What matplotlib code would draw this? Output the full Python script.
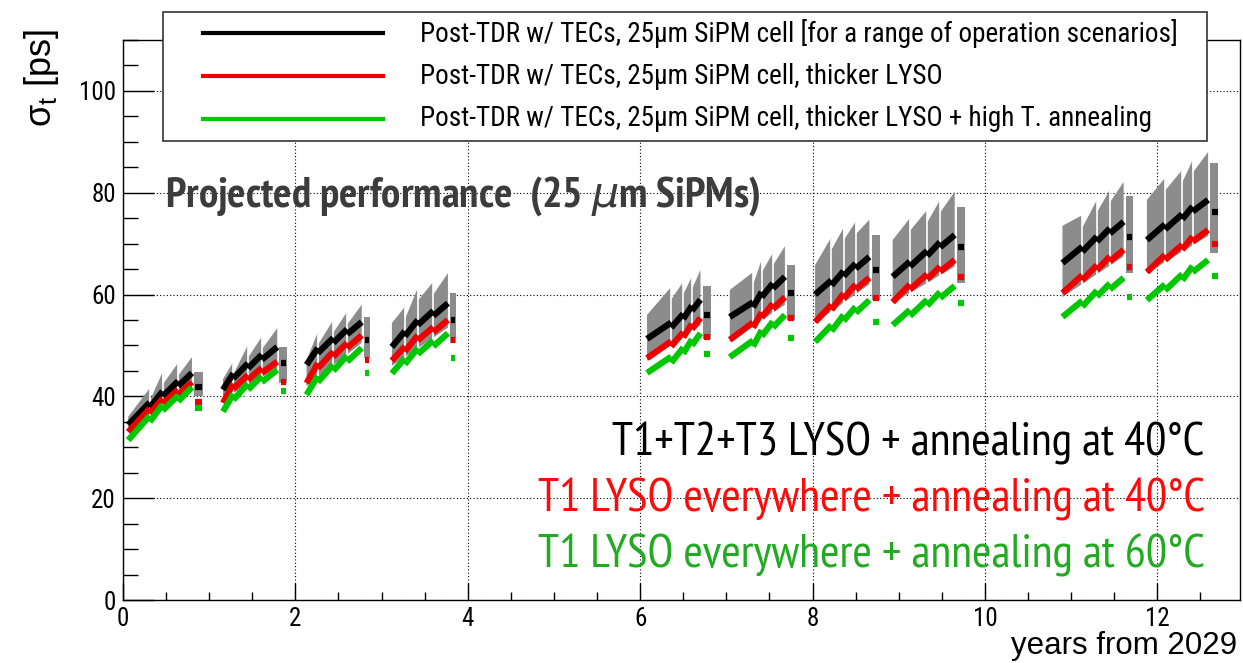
import numpy as np
import matplotlib.pyplot as plt
from matplotlib.lines import Line2D
from matplotlib.patches import Rectangle

# one block = one year of running; 4 fills (ramps) then a year-end point
block_start = [0.06, 1.16, 2.13, 3.12, 6.08, 7.04, 8.03, 8.93, 10.90, 11.88]
block_peaks = [[0.31, 0.46, 0.64, 0.80], [1.28, 1.45, 1.61, 1.79],
               [2.26, 2.44, 2.60, 2.77], [3.27, 3.42, 3.60, 3.77],
               [6.36, 6.50, 6.60, 6.70], [7.31, 7.41, 7.54, 7.68],
               [8.22, 8.36, 8.50, 8.66], [9.13, 9.33, 9.48, 9.65],
               [11.13, 11.30, 11.45, 11.61], [12.09, 12.29, 12.41, 12.59]]
block_end = [0.93, 1.90, 2.87, 3.86, 6.82, 7.80, 8.78, 9.77, 11.72, 12.71]

# curve values: start of year, then top of each fill
black_vals = [[34.4, 38.8, 41.0, 43.0, 44.6], [41.3, 44.5, 46.5, 48.2, 49.7],
              [46.2, 49.5, 51.5, 53.2, 54.6], [49.7, 52.8, 55.0, 56.8, 58.3],
              [51.3, 54.5, 56.2, 57.8, 59.0], [55.6, 58.5, 60.5, 62.2, 63.5],
              [60.0, 62.8, 64.6, 66.1, 67.4], [63.5, 66.5, 68.6, 70.3, 71.7],
              [66.2, 69.4, 71.4, 73.0, 74.3], [70.7, 73.8, 75.8, 77.3, 78.6]]
red_vals = [[33.0, 37.6, 39.6, 41.3, 42.8], [38.7, 42.5, 44.2, 45.6, 46.8],
            [42.6, 46.5, 48.8, 50.5, 52.0], [47.0, 49.8, 52.0, 53.6, 55.0],
            [47.5, 50.8, 52.6, 54.2, 55.4], [51.1, 54.5, 56.5, 58.2, 59.5],
            [54.6, 58.0, 60.2, 62.0, 63.3], [58.5, 62.0, 64.0, 65.5, 66.8],
            [60.3, 63.8, 65.8, 67.5, 68.8], [64.4, 67.8, 69.8, 71.4, 72.7]]
green_vals = [[31.4, 36.2, 38.4, 40.2, 41.8], [37.0, 40.5, 42.5, 44.0, 45.2],
              [40.3, 44.0, 46.2, 48.0, 49.5], [44.5, 47.5, 49.5, 51.0, 52.4],
              [44.6, 47.8, 49.6, 51.2, 52.4], [47.7, 51.0, 53.0, 54.7, 56.0],
              [50.7, 54.0, 56.0, 57.6, 58.9], [54.0, 57.0, 59.0, 60.5, 61.7],
              [55.6, 58.8, 60.8, 62.2, 63.3], [58.9, 62.0, 64.0, 65.6, 66.8]]

# year-end values (after annealing)
black_end = [41.8, 46.5, 51.0, 55.0, 56.0, 60.3, 64.8, 69.4, 71.3, 76.2]
red_end = [38.9, 42.8, 47.1, 51.1, 51.7, 55.4, 59.3, 63.5, 65.4, 69.9]
green_end = [37.7, 41.1, 44.6, 47.5, 48.3, 51.5, 54.6, 58.3, 59.5, 63.7]

# recovery between fills
black_drop, red_drop, green_drop = 1.0, 1.0, 1.2

# grey band (range of operation scenarios)
band_hi = [[36.0, 41.6, 44.8, 46.6, 47.7], [43.4, 46.8, 50.1, 51.7, 53.4],
           [47.1, 52.6, 55.0, 56.6, 58.0], [54.4, 57.6, 61.3, 62.5, 64.2],
           [56.0, 61.5, 62.5, 63.5, 64.8], [60.9, 64.4, 66.8, 68.2, 69.5],
           [65.8, 71.3, 73.1, 74.3, 74.7], [70.7, 75.0, 76.6, 78.6, 80.2],
           [73.5, 75.6, 78.6, 80.6, 82.1], [78.6, 82.9, 84.5, 86.4, 88.0]]
band_lo = [[33.0, 41.0], [39.5, 45.5], [42.0, 50.5], [46.0, 53.5], [47.0, 54.0],
           [50.7, 58.0], [54.4, 62.0], [58.3, 65.5], [59.5, 67.5], [64.2, 71.5]]
band_end = [[44.8, 40.0], [49.7, 42.6], [55.6, 47.5], [60.3, 50.5], [61.7, 51.3],
            [65.8, 55.0], [71.7, 58.9], [77.2, 62.3], [79.4, 64.2], [85.9, 68.2]]
band_drop = 2.5

legend_labels = [
    'Post-TDR w/ TECs, 25\u00b5m SiPM cell [for a range of operation scenarios]',
    'Post-TDR w/ TECs, 25\u00b5m SiPM cell, thicker LYSO',
    'Post-TDR w/ TECs, 25\u00b5m SiPM cell, thicker LYSO + high T. annealing',
]
scenario_labels = ['T1+T2+T3 LYSO + annealing at 40\u00b0C',
                   'T1 LYSO everywhere + annealing at 40\u00b0C',
                   'T1 LYSO everywhere + annealing at 60\u00b0C']

BLACK, RED, GREEN = '#000000', '#ee0000', '#00c800'
GREY = '#8c8c8c'
narrow = ['Roboto Condensed', 'Archivo Narrow', 'PT Sans Narrow', 'Liberation Sans']
big_narrow = ['PT Sans Narrow', 'Roboto Condensed', 'Archivo Narrow', 'Liberation Sans']
plt.rcParams['font.family'] = narrow

W, H = 1243, 663
fig = plt.figure(figsize=(W / 100, H / 100), dpi=100)
ax = fig.add_axes([123 / W, 1 - 600 / H, (1240 - 123) / W, (600 - 40) / H])
ax.set_xlim(0, 12.96)
ax.set_ylim(0, 110)

for b in range(len(block_start)):
    t0, peaks, tend = block_start[b], block_peaks[b], block_end[b]
    hi = band_hi[b]
    # band as sawtooth polygon
    xs, ys = [t0, t0], [band_lo[b][0], hi[0]]
    for k in range(4):
        xs.append(peaks[k]); ys.append(hi[k + 1])
        if k < 3:
            xs.append(peaks[k]); ys.append(hi[k + 1] - band_drop)
    xs.append(peaks[-1]); ys.append(band_lo[b][1])
    ax.fill(xs, ys, color=GREY, lw=0, zorder=2)
    ax.vlines(peaks[:3], band_lo[b][0], hi[1:4], color='white', lw=1.2, zorder=2.5)
    ax.fill_between([peaks[-1] + 0.025, tend], band_end[b][1], band_end[b][0],
                    color=GREY, lw=0, zorder=2)

    for vals, endv, drop, col in [(black_vals, black_end, black_drop, BLACK),
                                  (red_vals, red_end, red_drop, RED),
                                  (green_vals, green_end, green_drop, GREEN)]:
        v = vals[b]
        for k in range(4):
            xa = t0 if k == 0 else peaks[k - 1]
            ya = v[0] if k == 0 else v[k] - drop
            ax.plot([xa, peaks[k]], [ya, v[k + 1]], color=col, lw=4.5,
                    solid_capstyle='butt', zorder=4)
        ax.plot([peaks[-1] + 0.04, tend - 0.01], [endv[b], endv[b]], color=col,
                lw=4.5, solid_capstyle='butt', zorder=4)

# axes styling, ROOT-like
ax.set_xticks(np.arange(0, 13, 2))
ax.set_xticks(np.arange(0, 13, 0.5), minor=True)
ax.set_yticks(np.arange(0, 101, 20))
ax.set_yticks(np.arange(0, 111, 5), minor=True)
ax.grid(True, which='major', color='black', ls=(0, (1, 2)), lw=0.8, zorder=1)
ax.tick_params(axis='x', which='major', direction='in', length=12, width=1,
               labelsize=18, pad=5)
ax.tick_params(axis='x', which='minor', direction='in', length=6, width=1)
ax.tick_params(axis='y', which='major', direction='in', length=22, width=1,
               labelsize=18, pad=5)
ax.tick_params(axis='y', which='minor', direction='in', length=11, width=1)
for s in ax.spines.values():
    s.set_linewidth(1)
ax.set_axisbelow(True)

fig.text(42 / W, 1 - 78 / H, '\u03c3$_\\mathregular{t}$ [ps]', rotation=90,
         ha='center', va='center', fontsize=26,
         family=['Liberation Sans', 'DejaVu Sans'])
fig.text(1237 / W, 1 - 646 / H, 'years from 2029', ha='right', va='center',
         fontsize=22.5, family=['Liberation Sans', 'DejaVu Sans'])

# legend box drawn by hand
fig.add_artist(Rectangle((163 / W, 1 - 141 / H), (1207 - 163) / W, (141 - 12) / H,
                         transform=fig.transFigure, facecolor='white',
                         edgecolor='#333333', lw=1.2, zorder=10))
for i, (lab, col) in enumerate(zip(legend_labels, [BLACK, RED, GREEN])):
    yy = 1 - (33 + 43 * i) / H
    fig.add_artist(Line2D([203 / W, 383 / W], [yy, yy], transform=fig.transFigure,
                          color=col, lw=3, zorder=11))
    fig.text(420 / W, yy, lab, ha='left', va='center', fontsize=19.5, zorder=12)

ax.text(0.49, 79.4, 'Projected performance  (25 $\\mu$m SiPMs)', fontsize=31,
        fontweight='bold', color='#3c3c3c', va='center', ha='left', zorder=6,
        family=big_narrow)

for i, (lab, col) in enumerate(zip(scenario_labels, ['#000000', '#ff0a0a', '#22aa22'])):
    ax.text(12.55, 30.8 - 11 * i, lab, fontsize=34, color=col, ha='right',
            va='center', zorder=6, family=big_narrow)

fig.savefig('out.png', dpi=100)
